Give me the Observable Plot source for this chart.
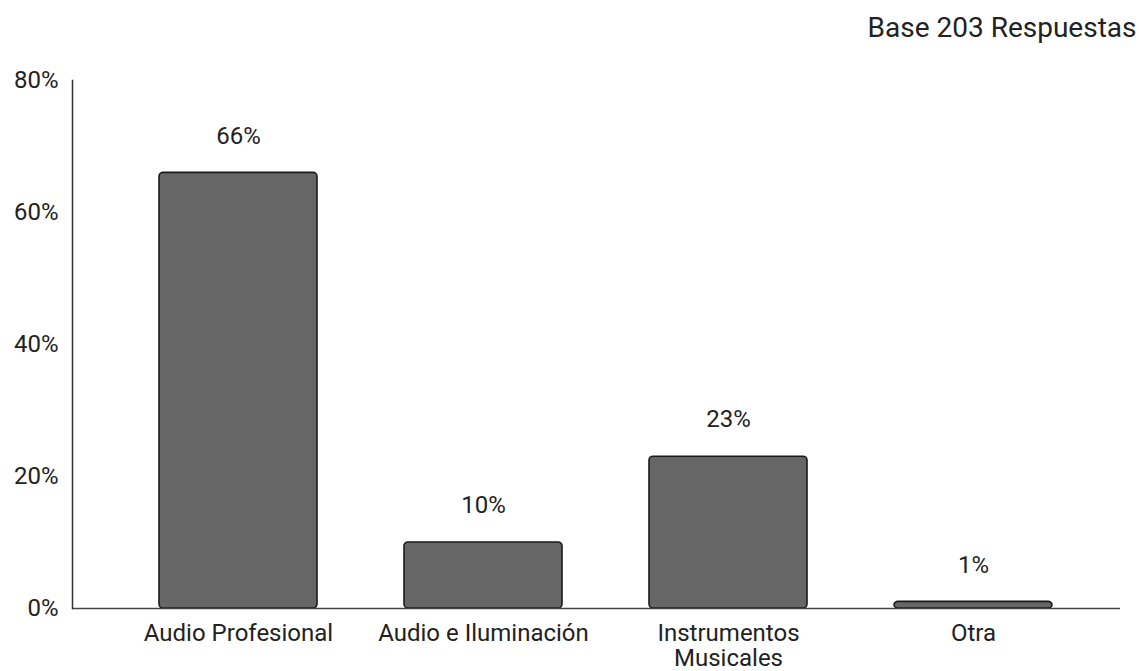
<!DOCTYPE html>
<html>
<head>
<meta charset="utf-8">
<script src="https://cdn.jsdelivr.net/npm/d3@7"></script>
<script src="https://cdn.jsdelivr.net/npm/@observablehq/plot@0.6"></script>
<style>
  html, body { margin: 0; padding: 0; background: #fff; }
  #chart svg { display: block; }
</style>
</head>
<body>
<div id="chart"></div>
<script>
const categories = ["Audio Profesional", "Audio e Iluminación", "Instrumentos\nMusicales", "Otra"];
const values = [0.66, 0.10, 0.23, 0.01];
const yTicks = [0, 0.2, 0.4, 0.6, 0.8];
const baseNote = "Base 203 Respuestas";

const data = categories.map((c, i) => ({category: c, value: values[i]}));
const font = "Roboto, 'Liberation Sans', sans-serif";

const chart = Plot.plot({
  width: 1139,
  height: 671,
  marginTop: 80,
  marginBottom: 63,
  marginLeft: 72,
  marginRight: 19,
  style: {fontFamily: font, fontSize: "24px", color: "#222", background: "#fff", overflow: "visible"},
  x: {domain: categories, range: [116, 1096], paddingInner: 0.355, paddingOuter: 0.1775, label: null},
  y: {domain: [0, 0.8], label: null},
  marks: [
    Plot.barY(data, {x: "category", y: "value", fill: "#666666", stroke: "#1a1a1a", strokeWidth: 1.6, rx: 4}),
    Plot.ruleY([0], {stroke: "#444", strokeWidth: 1.5}),
    Plot.frame({anchor: "left", stroke: "#333", strokeWidth: 1.5}),
    Plot.axisY({ticks: yTicks, tickFormat: d => Math.round(d * 100) + "%", tickSize: 0, tickPadding: 14, label: null, fontSize: 24, fill: "#222"}),
    Plot.axisX({tickSize: 0, tickPadding: 14, label: null, fontSize: 24, lineHeight: 1.06, fill: "#222", lineAnchor: "top"}),
    Plot.text(data, {x: "category", y: "value", text: d => Math.round(d.value * 100) + "%", dy: -37, fontSize: 24, fill: "#222"}),
    Plot.text([baseNote], {frameAnchor: "top-right", text: d => d, dx: 16, dy: -63, fontSize: 28, fill: "#222", textAnchor: "end"})
  ]
});
document.getElementById("chart").appendChild(chart);
</script>
</body>
</html>
